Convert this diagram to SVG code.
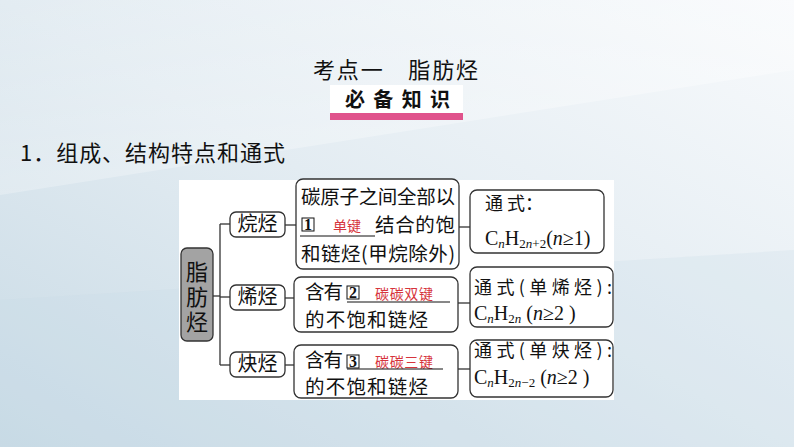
<svg xmlns="http://www.w3.org/2000/svg" width="794" height="447" viewBox="0 0 794 447">
<defs>
<linearGradient id="bg" x1="0" y1="1" x2="1" y2="0">
<stop offset="0" stop-color="#c8dae5"/>
<stop offset="0.5" stop-color="#e3ecf2"/>
<stop offset="1" stop-color="#f8fafc"/>
</linearGradient>
<linearGradient id="band" x1="0" y1="0" x2="1" y2="1">
<stop offset="0" stop-color="#ffffff" stop-opacity="0.0"/>
<stop offset="1" stop-color="#ffffff" stop-opacity="0.5"/>
</linearGradient>
</defs>
<style>
.cn{font-family:"Noto Sans CJK SC","Noto Sans",sans-serif;fill:#111}
.box{fill:#fff;stroke:#333;stroke-width:1.3}
.lnk{stroke:#333;stroke-width:1.3;fill:none}
.red{font-family:"Noto Sans CJK SC",sans-serif;fill:#d6343c;font-size:14px}
.num{font-family:"Liberation Serif",serif;font-size:16px;font-weight:bold;fill:#111}
.nb{fill:none;stroke:#111;stroke-width:1}
.f{font-family:"Liberation Serif",serif;font-size:20px;fill:#111}
.it{font-style:italic}
.sub{font-size:13px}
</style>
<rect width="794" height="447" fill="url(#bg)"/>
<polygon points="0,195 794,70 794,0 0,0" fill="url(#band)"/>
<polygon points="0,447 0,300 794,250 794,447" fill="#c9dbe6" opacity="0.25"/>

<text class="cn" x="313" y="78" font-size="22" textLength="165" lengthAdjust="spacing">考点一　脂肪烃</text>
<g id="bibei">
<rect x="330" y="85" width="133" height="29" fill="#ffffff"/>
<rect x="330" y="113" width="133" height="7" fill="#e0538c"/>
<text class="cn" x="345" y="107" font-size="20" font-weight="bold" textLength="105" lengthAdjust="spacing">必备知识</text>
</g>
<text class="cn" x="20" y="161" font-size="22" textLength="265" lengthAdjust="spacing">1．组成、结构特点和通式</text>

<rect x="179" y="180" width="435" height="220" fill="#ffffff"/>

<g id="connectors">
<line class="lnk" x1="213" y1="296" x2="220" y2="296"/>
<line class="lnk" x1="220" y1="224" x2="220" y2="365"/>
<line class="lnk" x1="220" y1="224" x2="230" y2="224"/>
<line class="lnk" x1="220" y1="297" x2="230" y2="297"/>
<line class="lnk" x1="220" y1="365" x2="230" y2="365"/>
<line class="lnk" x1="285" y1="225" x2="296" y2="225"/>
<line class="lnk" x1="285" y1="298" x2="294" y2="298"/>
<line class="lnk" x1="285" y1="365" x2="294" y2="365"/>
<line class="lnk" x1="459" y1="227" x2="470" y2="227"/>
<line class="lnk" x1="458" y1="303" x2="470" y2="303"/>
<line class="lnk" x1="458" y1="369" x2="470" y2="369"/>
</g>

<g id="root">
<rect x="181" y="248" width="32" height="93" rx="6" fill="#a3a3a3" stroke="#333" stroke-width="1.3"/>
<text class="cn" x="197" y="298" font-size="22" text-anchor="middle" style="writing-mode:vertical-rl" letter-spacing="3">脂肪烃</text>
</g>

<g id="alkane">
<rect class="box" x="230" y="212" width="55" height="25" rx="6"/>
<text class="cn" x="257.5" y="231" font-size="20" text-anchor="middle">烷烃</text>
</g>
<g id="alkene">
<rect class="box" x="230" y="285" width="55" height="25" rx="6"/>
<text class="cn" x="257.5" y="304" font-size="20" text-anchor="middle">烯烃</text>
</g>
<g id="alkyne">
<rect class="box" x="230" y="352" width="55" height="25" rx="6"/>
<text class="cn" x="257.5" y="371" font-size="20" text-anchor="middle">炔烃</text>
</g>

<g id="alkane-desc">
<rect class="box" x="296" y="179" width="163" height="90" rx="7"/>
<text class="cn" x="301" y="204" font-size="19.5" textLength="154" lengthAdjust="spacing">碳原子之间全部以</text>
<rect class="nb" x="302" y="218" width="12" height="13"/>
<text class="num" x="308" y="230" text-anchor="middle">1</text>
<text class="red" x="333" y="231">单键</text>
<line x1="300" y1="236" x2="375" y2="236" stroke="#111" stroke-width="1"/>
<text class="cn" x="375" y="232" font-size="19.5" textLength="80" lengthAdjust="spacing">结合的饱</text>
<text class="cn" x="301" y="261" font-size="19.5" textLength="154" lengthAdjust="spacing">和链烃(甲烷除外)</text>
</g>

<g id="alkene-desc">
<rect class="box" x="294" y="277" width="164" height="55" rx="7"/>
<text class="cn" x="305" y="299" font-size="19.5" textLength="38" lengthAdjust="spacing">含有</text>
<rect class="nb" x="347" y="286" width="12" height="13"/>
<text class="num" x="353" y="298" text-anchor="middle">2</text>
<text class="red" x="375" y="299" textLength="58" lengthAdjust="spacing">碳碳双键</text>
<line x1="347" y1="302" x2="450" y2="302" stroke="#111" stroke-width="1"/>
<text class="cn" x="305" y="327" font-size="19.5" textLength="123" lengthAdjust="spacing">的不饱和链烃</text>
</g>

<g id="alkyne-desc">
<rect class="box" x="294" y="345" width="164" height="53" rx="7"/>
<text class="cn" x="305" y="367" font-size="19.5" textLength="38" lengthAdjust="spacing">含有</text>
<rect class="nb" x="347" y="355" width="12" height="13"/>
<text class="num" x="353" y="367" text-anchor="middle">3</text>
<text class="red" x="375" y="367" textLength="58" lengthAdjust="spacing">碳碳三键</text>
<line x1="347" y1="369" x2="443" y2="369" stroke="#111" stroke-width="1"/>
<text class="cn" x="305" y="394" font-size="19.5" textLength="123" lengthAdjust="spacing">的不饱和链烃</text>
</g>

<g id="alkane-formula">
<rect class="box" x="470" y="190" width="134" height="63" rx="7"/>
<text class="cn" x="485" y="210" font-size="18">通 式：</text>
<text class="f" x="485" y="245">C<tspan class="it sub" dy="3">n</tspan><tspan dy="-3">H</tspan><tspan class="sub" dy="3">2</tspan><tspan class="it sub">n</tspan><tspan class="sub">+2</tspan><tspan dy="-3">(</tspan><tspan class="it">n</tspan>≥1)</text>
</g>

<g id="alkene-formula">
<rect class="box" x="470" y="267" width="143" height="60" rx="7"/>
<text class="cn" x="474" y="294" font-size="18" textLength="138" lengthAdjust="spacing">通式(单烯烃):</text>
<text class="f" x="474" y="320">C<tspan class="it sub" dy="3">n</tspan><tspan dy="-3">H</tspan><tspan class="sub" dy="3">2</tspan><tspan class="it sub">n</tspan><tspan dy="-3"> (</tspan><tspan class="it">n</tspan>≥2 )</text>
</g>

<g id="alkyne-formula">
<rect class="box" x="470" y="340" width="143" height="57" rx="7"/>
<text class="cn" x="474" y="357" font-size="18" textLength="138" lengthAdjust="spacing">通式(单炔烃):</text>
<text class="f" x="474" y="384">C<tspan class="it sub" dy="3">n</tspan><tspan dy="-3">H</tspan><tspan class="sub" dy="3">2</tspan><tspan class="it sub">n</tspan><tspan class="sub">−2</tspan><tspan dy="-3"> (</tspan><tspan class="it">n</tspan>≥2 )</text>
</g>
</svg>
